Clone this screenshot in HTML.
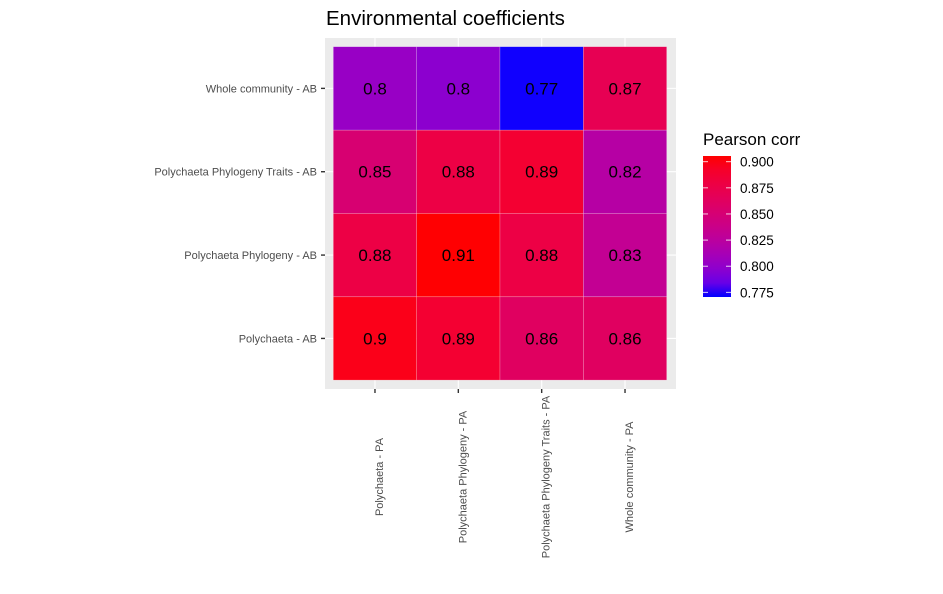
<!DOCTYPE html>
<html><head><meta charset="utf-8"><style>
body{margin:0;background:#fff;font-family:"Liberation Sans",sans-serif}
</style></head><body>
<svg id="c" width="943" height="589" xmlns="http://www.w3.org/2000/svg"></svg>
<script>
const xCats=["Polychaeta - PA","Polychaeta Phylogeny - PA","Polychaeta Phylogeny Traits - PA","Whole community - PA"];
const yCats=["Polychaeta - AB","Polychaeta Phylogeny - AB","Polychaeta Phylogeny Traits - AB","Whole community - AB"];
const values=[
 [0.899,0.888,0.862,0.862],
 [0.878,0.905,0.878,0.832],
 [0.852,0.878,0.888,0.822],
 [0.803,0.797,0.771,0.870]
];
const legendTicks=[0.775,0.800,0.825,0.850,0.875,0.900];
const vMin=0.7705,vMax=0.9055;
const svg=document.getElementById('c');
const NS="http://www.w3.org/2000/svg";
function mk(t,a,p){const e=document.createElementNS(NS,t);for(const k in a)e.setAttribute(k,a[k]);(p||svg).appendChild(e);return e;}
function toLin(c){c/=255;return c<=0.04045?c/12.92:Math.pow((c+0.055)/1.055,2.4);}
function toS(c){c=c<=0.0031308?12.92*c:1.055*Math.pow(c,1/2.4)-0.055;return Math.round(Math.max(0,Math.min(1,c))*255);}
function rgb2lab(r,g,b){r=toLin(r);g=toLin(g);b=toLin(b);
 let X=(r*0.4124+g*0.3576+b*0.1805)/0.95047,Y=r*0.2126+g*0.7152+b*0.0722,Z=(r*0.0193+g*0.1192+b*0.9505)/1.08883;
 const f=t=>t>0.008856?Math.cbrt(t):7.787*t+16/116;X=f(X);Y=f(Y);Z=f(Z);
 return [116*Y-16,500*(X-Y),200*(Y-Z)];}
function lab2rgb(L,a,b){let Y=(L+16)/116,X=a/500+Y,Z=Y-b/200;
 const fi=t=>t*t*t>0.008856?t*t*t:(t-16/116)/7.787;X=fi(X)*0.95047;Y=fi(Y);Z=fi(Z)*1.08883;
 const r=X*3.2406+Y*-1.5372+Z*-0.4986,g=X*-0.9689+Y*1.8758+Z*0.0415,bb=X*0.0557+Y*-0.2040+Z*1.0570;
 return `rgb(${toS(r)},${toS(g)},${toS(bb)})`;}
const LB=rgb2lab(0,0,255),LR=rgb2lab(255,0,0);
function col(v){let t=(v-vMin)/(vMax-vMin);t=Math.max(0,Math.min(1,t));return lab2rgb(LB[0]+(LR[0]-LB[0])*t,LB[1]+(LR[1]-LB[1])*t,LB[2]+(LR[2]-LB[2])*t);}
const pL=325,pT=38,pR=676,pB=389,tL=333.3,tT=46.7,tw=83.35;
mk('rect',{x:pL,y:pT,width:pR-pL,height:pB-pT,fill:'#EBEBEB',});
const xC=i=>tL+tw*(i+0.5);
const yC=j=>tT+tw*(yCats.length-1-j+0.5);
xCats.forEach((c,i)=>mk('line',{x1:xC(i),x2:xC(i),y1:pT,y2:pB,stroke:'#fff','stroke-width':1.1}));
yCats.forEach((c,j)=>mk('line',{x1:pL,x2:pR,y1:yC(j),y2:yC(j),stroke:'#fff','stroke-width':1.1}));
yCats.forEach((yc,j)=>xCats.forEach((xc,i)=>{
 const v=values[j][i];
 const r=mk('rect',{x:xC(i)-tw/2,y:yC(j)-tw/2,width:tw,height:tw,fill:col(v),stroke:'rgba(255,255,255,0.35)','stroke-width':0.6});
 
 
 const t=mk('text',{x:xC(i),y:yC(j)+6,'text-anchor':'middle','font-size':17,fill:'#000'});
 t.textContent=String(+v.toFixed(2));
 
 
}));
yCats.forEach((c,j)=>{
 mk('line',{x1:pL-4,x2:pL,y1:yC(j),y2:yC(j),stroke:'#333','stroke-width':1.4});
 const t=mk('text',{x:pL-8,y:yC(j)+4,'text-anchor':'end','font-size':11,fill:'#4D4D4D'});
 t.textContent=c;
 
 
});
xCats.forEach((c,i)=>{
 mk('line',{x1:xC(i),x2:xC(i),y1:pB,y2:pB+4,stroke:'#333','stroke-width':1.4});
 const t=mk('text',{x:0,y:0,'text-anchor':'middle','font-size':11,fill:'#4D4D4D',transform:`translate(${xC(i)+8},${477}) rotate(-90)`});
 t.textContent=c;
 
 
});
const title=mk('text',{x:326,y:25,'font-size':20.5,fill:'#000',});
title.textContent="Environmental coefficients";
const defs=mk('defs',{});
const g=mk('linearGradient',{id:'lg',x1:0,y1:1,x2:0,y2:0},defs);
for(let k=0;k<=10;k++){mk('stop',{offset:k/10,'stop-color':col(vMin+(vMax-vMin)*k/10)},g);}
const lt=mk('text',{x:703,y:145,'font-size':17,fill:'#000',});
lt.textContent="Pearson corr";
const bT=156,bB=297,lx=703,lw=28;
mk('rect',{x:lx,y:bT,width:lw,height:bB-bT,fill:'url(#lg)',});
const ly=v=>bB-(v-vMin)/(vMax-vMin)*(bB-bT);
legendTicks.forEach(v=>{
 mk('line',{x1:lx,x2:lx+5,y1:ly(v),y2:ly(v),stroke:'#fff','stroke-width':0.8});
 mk('line',{x1:lx+lw-5,x2:lx+lw,y1:ly(v),y2:ly(v),stroke:'#fff','stroke-width':0.8});
 const t=mk('text',{x:740,y:ly(v)+5,'font-size':13.5,fill:'#000'});
 t.textContent=v.toFixed(3);
 
 
});
</script>
</body></html>
